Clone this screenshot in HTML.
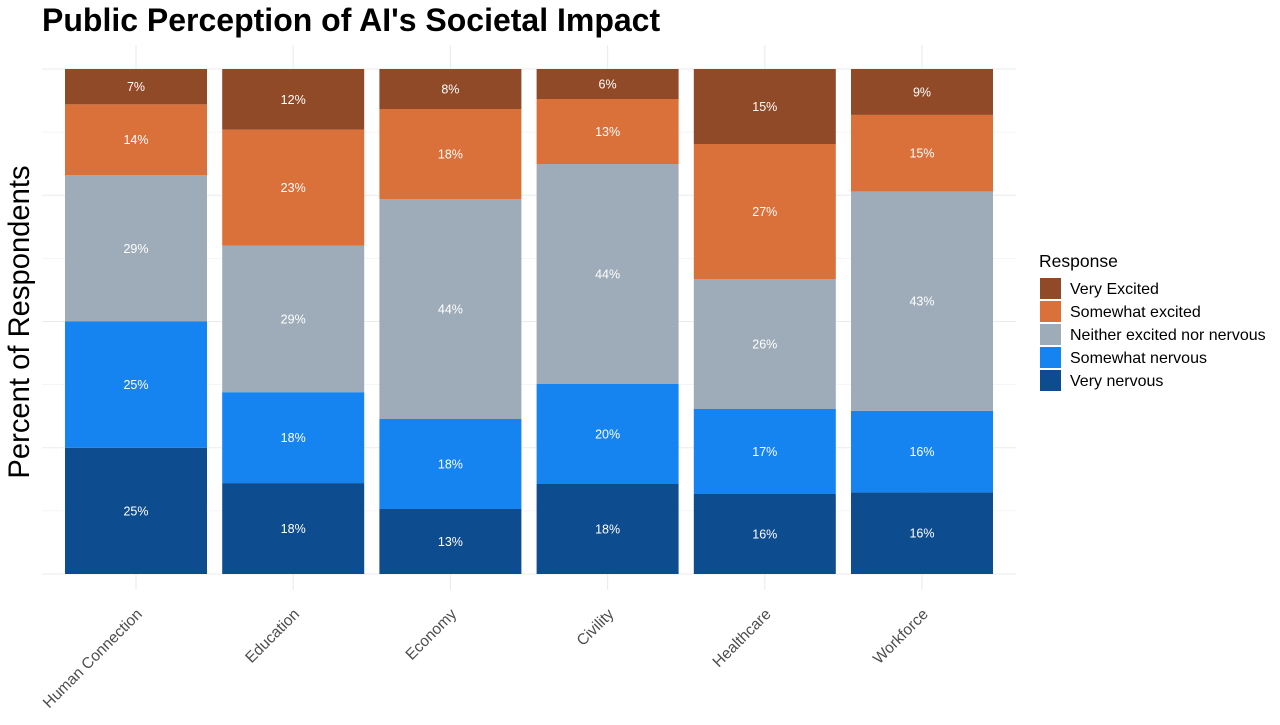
<!DOCTYPE html>
<html><head><meta charset="utf-8">
<style>
body{margin:0;background:#fff;width:1280px;height:720px;overflow:hidden;font-family:"Liberation Sans",sans-serif;}
</style></head>
<body>
<svg id="chart" width="1280" height="720" font-family="Liberation Sans, sans-serif">
<text x="42" y="31" font-size="32" font-weight="bold" fill="#000">Public Perception of AI's Societal Impact</text>
<text transform="translate(29,322) rotate(-90)" text-anchor="middle" font-size="29.2" fill="#000">Percent of Respondents</text>
<g id="grid"></g>
<g id="bars"></g>
<g id="xlabels"></g>
<g id="legend">
<text x="1039" y="267" font-size="17.5" fill="#000">Response</text>
</g>
</svg>
<script>
const categories = ["Human Connection","Education","Economy","Civility","Healthcare","Workforce"];
const seriesNames = ["Very nervous","Somewhat nervous","Neither excited nor nervous","Somewhat excited","Very Excited"];
const veryNervous = [25,18,13,18,16,16];
const somewhatNervous = [25,18,18,20,17,16];
const neither = [29,29,44,44,26,43];
const somewhatExcited = [14,23,18,13,27,15];
const veryExcited = [7,12,8,6,15,9];
const colors = ["#0E4C90","#1684F0","#9EABB8","#DA703A","#914A27"];

const ns="http://www.w3.org/2000/svg";
const plotL=42,plotR=1016,plotTop=69,plotBot=574;
const step=157.2,first=136,barW=142;
const xC=i=>first+i*step;
const yS=f=>plotBot-f*(plotBot-plotTop);
function mk(t,a){const e=document.createElementNS(ns,t);for(const k in a)e.setAttribute(k,a[k]);return e;}

const grid=document.getElementById('grid');
for(let k=0;k<=8;k++){
  const y=yS(k/8);
  const l=mk('line',{x1:plotL,x2:plotR,y1:y,y2:y,stroke:"#ebebeb","stroke-width":k%2?0.6:1.1});
  
  
  grid.appendChild(l);
}
categories.forEach((c,i)=>{
  const l=mk('line',{x1:xC(i),x2:xC(i),y1:45,y2:590,stroke:"#ebebeb","stroke-width":1.1});
  
  
  grid.appendChild(l);
});

const series=[veryNervous,somewhatNervous,neither,somewhatExcited,veryExcited];
const bars=document.getElementById('bars');
const xl=document.getElementById('xlabels');
categories.forEach((c,i)=>{
  const total=series.reduce((s,a)=>s+a[i],0);
  let cum=0;
  series.forEach((arr,s)=>{
    const v=arr[i];
    const y0=yS(cum/total), y1=yS((cum+v)/total);
    const r=mk('rect',{x:xC(i)-barW/2,y:y1,width:barW,height:y0-y1,fill:colors[s]});
    
    
    bars.appendChild(r);
    const t=mk('text',{x:xC(i),y:(y0+y1)/2+4.5,"text-anchor":"middle","font-size":12.5,fill:"#fff"});
    t.textContent=v+"%";
    
    
    bars.appendChild(t);
    cum+=v;
  });
  const t=mk('text',{transform:`translate(${xC(i)+7},${615}) rotate(-45)`,"text-anchor":"end","font-size":15.5,fill:"#4d4d4d"});
  t.textContent=c;
  
  
  xl.appendChild(t);
});

const leg=document.getElementById('legend');
for(let s=4;s>=0;s--){
  const j=4-s, y=278+j*23;
  const r=mk('rect',{x:1040,y:y,width:21,height:21,fill:colors[s]});
  
  
  leg.appendChild(r);
  const t=mk('text',{x:1070,y:y+16,"font-size":16,fill:"#000"});
  t.textContent=seriesNames[s];
  
  
  leg.appendChild(t);
}
</script>
</body></html>
